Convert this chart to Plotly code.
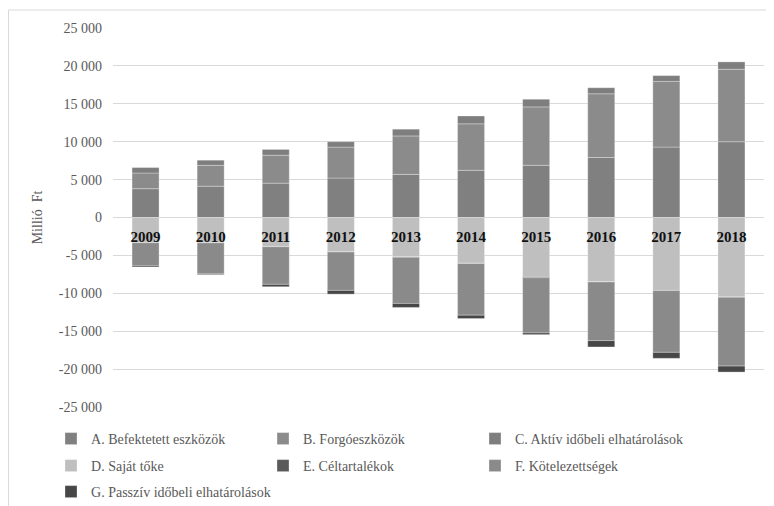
import plotly.graph_objects as go

years = ["2009", "2010", "2011", "2012", "2013", "2014", "2015", "2016", "2017", "2018"]

# Eszközök (positive side), millió Ft
a_befektetett = [3800, 4130, 4530, 5200, 5690, 6230, 6890, 7920, 9290, 10000]
b_forgo = [2070, 2760, 3690, 4090, 5070, 6130, 7700, 8400, 8670, 9560]
c_aktiv = [720, 670, 760, 710, 890, 1030, 1010, 800, 760, 970]

# Források (negative side), millió Ft
d_sajat = [-3310, -3330, -3840, -4540, -5210, -6040, -7810, -8480, -9620, -10500]
e_celtartalek = [-20, -20, -20, -20, -20, -20, -130, -20, -20, -20]
f_kotelezettseg = [-3070, -4090, -4960, -5060, -6110, -6830, -7290, -7740, -8150, -9080]
g_passziv = [-130, -100, -310, -490, -530, -440, -220, -840, -790, -790]

series_names = [
    "A. Befektetett eszközök",
    "B. Forgóeszközök",
    "C. Aktív időbeli elhatárolások",
    "D. Saját tőke",
    "E. Céltartalékok",
    "F. Kötelezettségek",
    "G. Passzív időbeli elhatárolások",
]
series_values = [a_befektetett, b_forgo, c_aktiv, d_sajat, e_celtartalek, f_kotelezettseg, g_passziv]
series_colors = ["#808080", "#8b8b8b", "#7e7e7e", "#bfbfbf", "#5a5a5a", "#8a8a8a", "#474747"]
series_legend_rows = ["legend", "legend", "legend", "legend2", "legend2", "legend2", "legend3"]

y_tickvals = [25000, 20000, 15000, 10000, 5000, 0, -5000, -10000, -15000, -20000, -25000]
y_ticktext = ["25 000", "20 000", "15 000", "10 000", "5 000", "0",
              "-5 000", "-10 000", "-15 000", "-20 000", "-25 000"]

SERIF = "Liberation Serif, Times New Roman, serif"

fig = go.Figure()
for name, vals, col, lg in zip(series_names, series_values, series_colors, series_legend_rows):
    fig.add_trace(go.Bar(
        x=years, y=vals, name=name, legend=lg,
        marker=dict(color=col, line=dict(color="rgba(255,255,255,0.6)", width=0.5)),
    ))

legend_common = dict(
    orientation="h",
    x=-0.0952, xanchor="left",
    yanchor="middle",
    font=dict(family=SERIF, size=14, color="#595959"),
    traceorder="normal",
    bgcolor="rgba(0,0,0,0)",
)

fig.update_layout(
    width=774, height=506,
    barmode="relative",
    bargap=0.585,
    paper_bgcolor="white",
    plot_bgcolor="white",
    margin=dict(l=105, r=18, t=20, b=107, autoexpand=False),
    showlegend=True,
    legend=dict(legend_common, y=-0.0844, entrywidth=167),
    legend2=dict(legend_common, y=-0.1557, entrywidth=167),
    legend3=dict(legend_common, y=-0.2243),
    xaxis=dict(
        type="category",
        anchor="free", position=0.5,
        showline=False, showgrid=False, zeroline=False,
        ticks="",
        ticklabelstandoff=8,
        tickfont=dict(family=SERIF, size=15, color="#111111", weight="bold"),
    ),
    yaxis=dict(
        range=[-25000, 25000],
        tickvals=y_tickvals, ticktext=y_ticktext,
        showgrid=True, gridcolor="#d9d9d9", gridwidth=1,
        zeroline=True, zerolinecolor="#d9d9d9", zerolinewidth=1,
        showline=False, ticks="",
        ticklabelstandoff=10,
        tickfont=dict(family=SERIF, size=14, color="#595959"),
        title=dict(text="Millió  Ft", font=dict(family=SERIF, size=14, color="#595959"), standoff=12),
    ),
    shapes=[dict(
        type="rect", xref="paper", yref="paper",
        x0=(0.5 - 105) / 651, x1=(762 - 105) / 651,
        y0=(399 - 520) / 379, y1=(399 - 2) / 379,
        line=dict(color="#d9d9d9", width=1), fillcolor="rgba(0,0,0,0)", layer="below",
    )],
)

fig.write_html("out.html")
